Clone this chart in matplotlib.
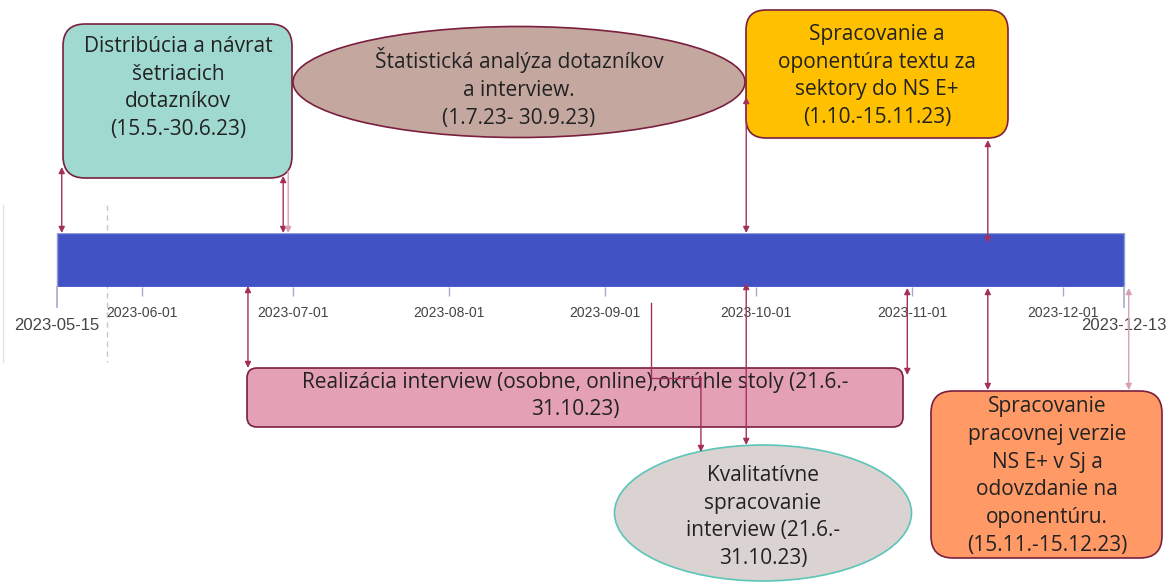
import numpy as np
import pandas as pd
import matplotlib
matplotlib.use("Agg")
import matplotlib.pyplot as plt
import matplotlib.dates as mdates
from matplotlib.patches import FancyBboxPatch, Ellipse

# === 1. Data ===
start = pd.Timestamp("2023-05-15")
end = pd.Timestamp("2023-12-13")
month_ticks = pd.to_datetime(["2023-06-01", "2023-07-01", "2023-08-01",
                              "2023-09-01", "2023-10-01", "2023-11-01",
                              "2023-12-01"])
month_labels = [d.strftime("%Y-%m-%d") for d in month_ticks]

# connector arrows: (date, y_from, y_to, heads, colour key)
arrow_dates = pd.to_datetime(["2023-05-16", "2023-06-29", "2023-06-30",
                              "2023-06-22", "2023-09-29", "2023-09-29",
                              "2023-11-16", "2023-10-31", "2023-11-16",
                              "2023-12-14"])
arrow_y0 = [167, 176, 171, 286, 97, 283, 140, 288, 288, 288]
arrow_y1 = [233, 233, 233, 368, 233, 445, 243, 375, 390, 390]
arrow_style = ["<|-|>", "<|-|>", "-|>", "<|-|>", "<|-|>", "<|-|>",
               "<|-|>", "<|-|>", "<|-|>", "<|-|>"]
arrow_light = [False, False, True, False, False, False,
               False, False, False, True]

# elbow connector into the grey ellipse
elbow_dates = pd.to_datetime(["2023-09-10", "2023-09-10", "2023-09-20", "2023-09-20"])
elbow_y = [303, 378, 378, 452]

W, H = 1173, 582
fig = plt.figure(figsize=(W / 100, H / 100), dpi=100)

# === 2. Boxes (pixel overlay) ===
ov = fig.add_axes([0, 0, 1, 1])
ov.set_xlim(0, W)
ov.set_ylim(H, 0)
ov.axis("off")

edge = "#7A1F3D"
txt_kw = dict(ha="center", va="center", family="Open Sans", fontsize=15,
              color="#222222", linespacing=1.42)

ov.plot([107, 107], [205, 362], ls=(0, (4, 3)), color="#C8C8C8", lw=1, zorder=0)
ov.plot([3, 3], [205, 362], color="#E4E4E4", lw=1, zorder=0)

ov.add_patch(FancyBboxPatch((63, 24), 229, 154, boxstyle="round,pad=0,rounding_size=22",
                            fc="#9FD9D0", ec=edge, lw=1.2))
ov.text(178, 88, "Distribúcia a návrat\nšetriacich\ndotazníkov\n(15.5.-30.6.23)", **txt_kw)

ov.add_patch(Ellipse((519, 82), 452, 111, fc="#C4A89F", ec=edge, lw=1.2))
ov.text(519, 88, "Štatistická analýza dotazníkov\na interview.\n(1.7.23- 30.9.23)", **txt_kw)

ov.add_patch(FancyBboxPatch((746, 10), 262, 128, boxstyle="round,pad=0,rounding_size=20",
                            fc="#FFC000", ec=edge, lw=1.2))
ov.text(877, 76, "Spracovanie a\noponentúra textu za\nsektory do NS E+\n(1.10.-15.11.23)", **txt_kw)

ov.add_patch(FancyBboxPatch((247, 368), 656, 59, boxstyle="round,pad=0,rounding_size=10",
                            fc="#E4A0B4", ec=edge, lw=1.2))
ov.text(575, 396, "Realizácia interview (osobne, online),okrúhle stoly (21.6.-\n31.10.23)", **txt_kw)

ov.add_patch(Ellipse((763, 513), 297, 136, fc="#DAD3D1", ec="#5CC5B8", lw=1.2))
ov.text(763, 517, "Kvalitatívne\nspracovanie\ninterview (21.6.-\n31.10.23)", **txt_kw)

ov.add_patch(FancyBboxPatch((931, 391), 231, 167, boxstyle="round,pad=0,rounding_size=22",
                            fc="#FF9966", ec=edge, lw=1.2))
ov.text(1047, 476, "Spracovanie\npracovnej verzie\nNS E+ v Sj a\nodovzdanie na\noponentúru.\n(15.11.-15.12.23)", **txt_kw)

# === 3. Timeline axis (y in pixel units so connectors can leave the bar) ===
px_per_day = 5.033
x0 = mdates.date2num(start) - 56.7 / px_per_day
x1 = x0 + W / px_per_day
ax = fig.add_axes([0, (H - 287) / H, 1, 54 / H])
ax.set_xlim(x0, x1)
ax.set_ylim(287, 233)
ax.patch.set_alpha(0)
for s in ax.spines.values():
    s.set_visible(False)
ax.set_yticks([])

ax.barh(260, (end - start).days, left=start, height=54,
        color="#4052C4", edgecolor="#8E9BDA", lw=1)

ax.set_xticks(month_ticks)
ax.set_xticklabels(month_labels, family="Liberation Sans", fontsize=10, color="#444444")
ax.tick_params(axis="x", length=6.5, width=1, color="#A6ABCB", pad=7)

for d in [start, end]:
    ax.plot([d, d], [287, 307], color="#A6ABCB", lw=1.2, clip_on=False)
    ax.text(d, 325, d.strftime("%Y-%m-%d"), ha="center", va="center",
            family="Liberation Sans", fontsize=12, color="#444444", clip_on=False)

red = "#A3305C"
light = "#D9A0B5"
for d, ya, yb, st, lt in zip(arrow_dates, arrow_y0, arrow_y1, arrow_style, arrow_light):
    c = light if lt else red
    ax.annotate("", xy=(d, yb), xytext=(d, ya), annotation_clip=False,
                arrowprops=dict(arrowstyle=st, color=c, lw=1,
                                mutation_scale=9, shrinkA=0, shrinkB=0))

ax.plot(elbow_dates[:3], elbow_y[:3], color=red, lw=1, clip_on=False)
ax.annotate("", xy=(elbow_dates[3], elbow_y[3]), xytext=(elbow_dates[2], elbow_y[2]),
            annotation_clip=False,
            arrowprops=dict(arrowstyle="-|>", color=red, lw=1,
                            mutation_scale=9, shrinkA=0, shrinkB=0))

fig.savefig("out.png", dpi=100)
